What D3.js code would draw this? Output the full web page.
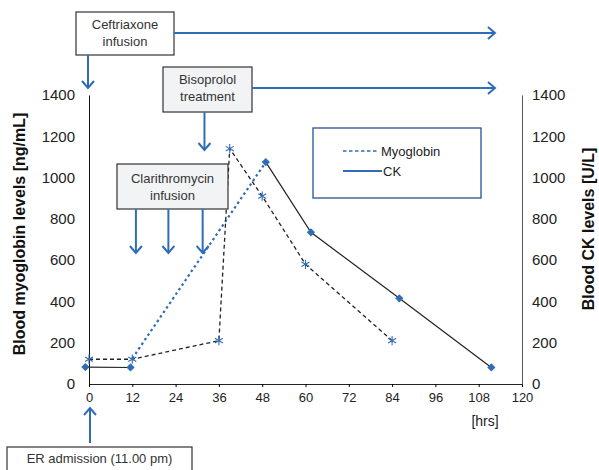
<!DOCTYPE html>
<html>
<head>
<meta charset="utf-8">
<script src="https://cdn.jsdelivr.net/npm/d3@7"></script>
<style>
  body { margin: 0; background: #fff; }
  svg { display: block; font-family: "Liberation Sans", Arial, sans-serif; }
</style>
</head>
<body>
<div class="chart"></div>
<script>
// Hours after ER admission and measured levels
const myoHours = [0, 12, 36, 39, 48, 60, 84];
const myoValues = [120, 120, 210, 1140, 910, 580, 210];
const ckHours = [-1, 11.5, 49, 61.5, 86, 111.5];
const ckValues = [82, 80, 1075, 735, 415, 80];
const ckGapAfter = 1; // no CK line drawn between 12 h and the peak
// blue dotted rise line (myoglobin at 12 h up to CK peak)
const trendHours = [12, 49];
const trendValues = [124, 1075];

const xTicks = [0, 12, 24, 36, 48, 60, 72, 84, 96, 108, 120];
const yTicks = [0, 200, 400, 600, 800, 1000, 1200, 1400];

// therapy timing (hours)
const ceftriaxoneStart = 0;
const bisoprololStart = 32;
const clarithroDoses = [13, 22, 31.5];
const therapyEnd = 112.5;

const Width = 599, Height = 470;
const Margin = {top: 95, right: 77, bottom: 86, left: 89};
const blue = "#2f6db5";

const svg = d3.select(".chart").append("svg")
    .attr("width", Width).attr("height", Height);

const x = d3.scaleLinear().domain([0, 120]).range([Margin.left, Width - Margin.right]);
const y = d3.scaleLinear().domain([0, 1400]).range([Height - Margin.bottom, Margin.top]);

// arrow marker (open chevron)
svg.append("defs").append("marker")
    .attr("id", "arrow")
    .attr("markerUnits", "userSpaceOnUse")
    .attr("viewBox", "-8 -7 10 14")
    .attr("refX", 0).attr("refY", 0)
    .attr("markerWidth", 10).attr("markerHeight", 14)
    .attr("orient", "auto")
    .append("path")
    .attr("d", "M-7,-6L0,0L-7,6")
    .attr("fill", "none").attr("stroke", blue).attr("stroke-width", 2);

// X axis
const xAxis = svg.append("g")
    .attr("transform", "translate(0," + y(0) + ")")
    .call(d3.axisBottom(x).tickValues(xTicks).tickSizeInner(3).tickSizeOuter(0).tickPadding(6));
xAxis.select(".domain").attr("stroke", "#222");
xAxis.selectAll("text").attr("font-size", 13).attr("fill", "#222");

// Left axis
const yLeft = svg.append("g")
    .attr("transform", "translate(" + x(0) + ",0)")
    .call(d3.axisLeft(y).tickValues(yTicks).tickFormat(d3.format("d")).tickSize(0).tickPadding(14));
yLeft.select(".domain").attr("stroke", "#111");
yLeft.selectAll("text").attr("font-size", 15).attr("fill", "#222");

// Right axis
const yRight = svg.append("g")
    .attr("transform", "translate(" + x(120) + ",0)")
    .call(d3.axisRight(y).tickValues(yTicks).tickFormat(d3.format("d")).tickSize(0).tickPadding(10));
yRight.select(".domain").attr("stroke", "#555");
yRight.selectAll("text").attr("font-size", 15).attr("fill", "#222");

// Axis titles
svg.append("text")
    .attr("transform", "translate(25," + 234 + ") rotate(-90)")
    .attr("text-anchor", "middle")
    .attr("font-size", 16).attr("font-weight", "bold").attr("fill", "#111")
    .text("Blood myoglobin levels [ng/mL]");
svg.append("text")
    .attr("transform", "translate(594," + 229 + ") rotate(-90)")
    .attr("text-anchor", "middle")
    .attr("font-size", 16).attr("font-weight", "bold").attr("fill", "#111")
    .text("Blood CK levels [U/L]");
svg.append("text")
    .attr("x", 485).attr("y", 426)
    .attr("text-anchor", "middle")
    .attr("font-size", 14).attr("fill", "#222")
    .text("[hrs]");

const line = d3.line().x(d => x(d[0])).y(d => y(d[1]));
const ckPoints = d3.zip(ckHours, ckValues);

// Trend line (blue dotted)
svg.append("path")
    .datum(d3.zip(trendHours, trendValues))
    .attr("d", line)
    .attr("fill", "none").attr("stroke", blue)
    .attr("stroke-width", 2.2).attr("stroke-dasharray", "2.5,3");

// Myoglobin (dashed)
svg.append("path")
    .datum(d3.zip(myoHours, myoValues))
    .attr("d", line)
    .attr("fill", "none").attr("stroke", "#222")
    .attr("stroke-width", 1.3).attr("stroke-dasharray", "4,3");

// CK (solid, two segments)
[ckPoints.slice(0, ckGapAfter + 1), ckPoints.slice(ckGapAfter + 1)].forEach(seg => {
    svg.append("path")
        .datum(seg)
        .attr("d", line)
        .attr("fill", "none").attr("stroke", "#222")
        .attr("stroke-width", 1.2);
});

// markers
svg.selectAll(".myo").data(d3.zip(myoHours, myoValues)).join("path")
    .attr("class", "myo")
    .attr("transform", d => "translate(" + x(d[0]) + "," + y(d[1]) + ")")
    .attr("d", d3.symbol(d3.symbolAsterisk, 60))
    .attr("fill", "none").attr("stroke", blue).attr("stroke-width", 1.1);

svg.selectAll(".ck").data(ckPoints).join("path")
    .attr("class", "ck")
    .attr("transform", d => "translate(" + x(d[0]) + "," + y(d[1]) + ") rotate(45)")
    .attr("d", d3.symbol(d3.symbolSquare, 34))
    .attr("fill", blue);

// Legend
const legend = svg.append("g");
legend.append("rect")
    .attr("x", 313).attr("y", 128).attr("width", 168).attr("height", 70)
    .attr("fill", "#fff").attr("stroke", "#24528f").attr("stroke-width", 1.3);
legend.append("line")
    .attr("x1", 343).attr("x2", 378).attr("y1", 151).attr("y2", 151)
    .attr("stroke", blue).attr("stroke-width", 1.5).attr("stroke-dasharray", "3.5,2.5");
legend.append("text").attr("x", 381).attr("y", 156)
    .attr("font-size", 13).attr("fill", "#222").text("Myoglobin");
legend.append("line")
    .attr("x1", 343).attr("x2", 382).attr("y1", 171).attr("y2", 171)
    .attr("stroke", blue).attr("stroke-width", 2);
legend.append("text").attr("x", 383).attr("y", 176)
    .attr("font-size", 13).attr("fill", "#222").text("CK");

// Annotation boxes
function box(x0, y0, w, h, fill, lines, baselines) {
    svg.append("rect")
        .attr("x", x0).attr("y", y0).attr("width", w).attr("height", h)
        .attr("fill", fill).attr("stroke", "#333").attr("stroke-width", 1.2);
    lines.forEach((t, i) => {
        svg.append("text")
            .attr("x", x0 + w / 2).attr("y", baselines[i])
            .attr("text-anchor", "middle")
            .attr("font-size", 13).attr("fill", "#333")
            .text(t);
    });
}

function arrow(x1, y1, x2, y2) {
    svg.append("line")
        .attr("x1", x1).attr("y1", y1).attr("x2", x2).attr("y2", y2)
        .attr("stroke", blue).attr("stroke-width", 2)
        .attr("marker-end", "url(#arrow)");
}

// Ceftriaxone
box(76, 12, 98, 43, "#fff", ["Ceftriaxone", "infusion"], [29, 46]);
arrow(174, 33, x(therapyEnd), 33);
arrow(x(ceftriaxoneStart) - 1, 55, x(ceftriaxoneStart) - 1, 88);

// Bisoprolol
box(163, 67, 89, 45, "#f2f3f5", ["Bisoprolol", "treatment"], [84, 101]);
arrow(252, 88, x(therapyEnd), 88);
arrow(x(bisoprololStart), 112, x(bisoprololStart), 150);

// Clarithromycin
box(117, 164, 111, 45, "#f2f3f5", ["Clarithromycin", "infusion"], [183, 200]);
clarithroDoses.forEach(h => arrow(x(h), 209, x(h), 253));

// ER admission
box(7, 447, 185, 40, "#fff", ["ER admission (11.00 pm)"], [463]);
arrow(x(0) + 1, 443, x(0) + 1, 408);
</script>
</body>
</html>
